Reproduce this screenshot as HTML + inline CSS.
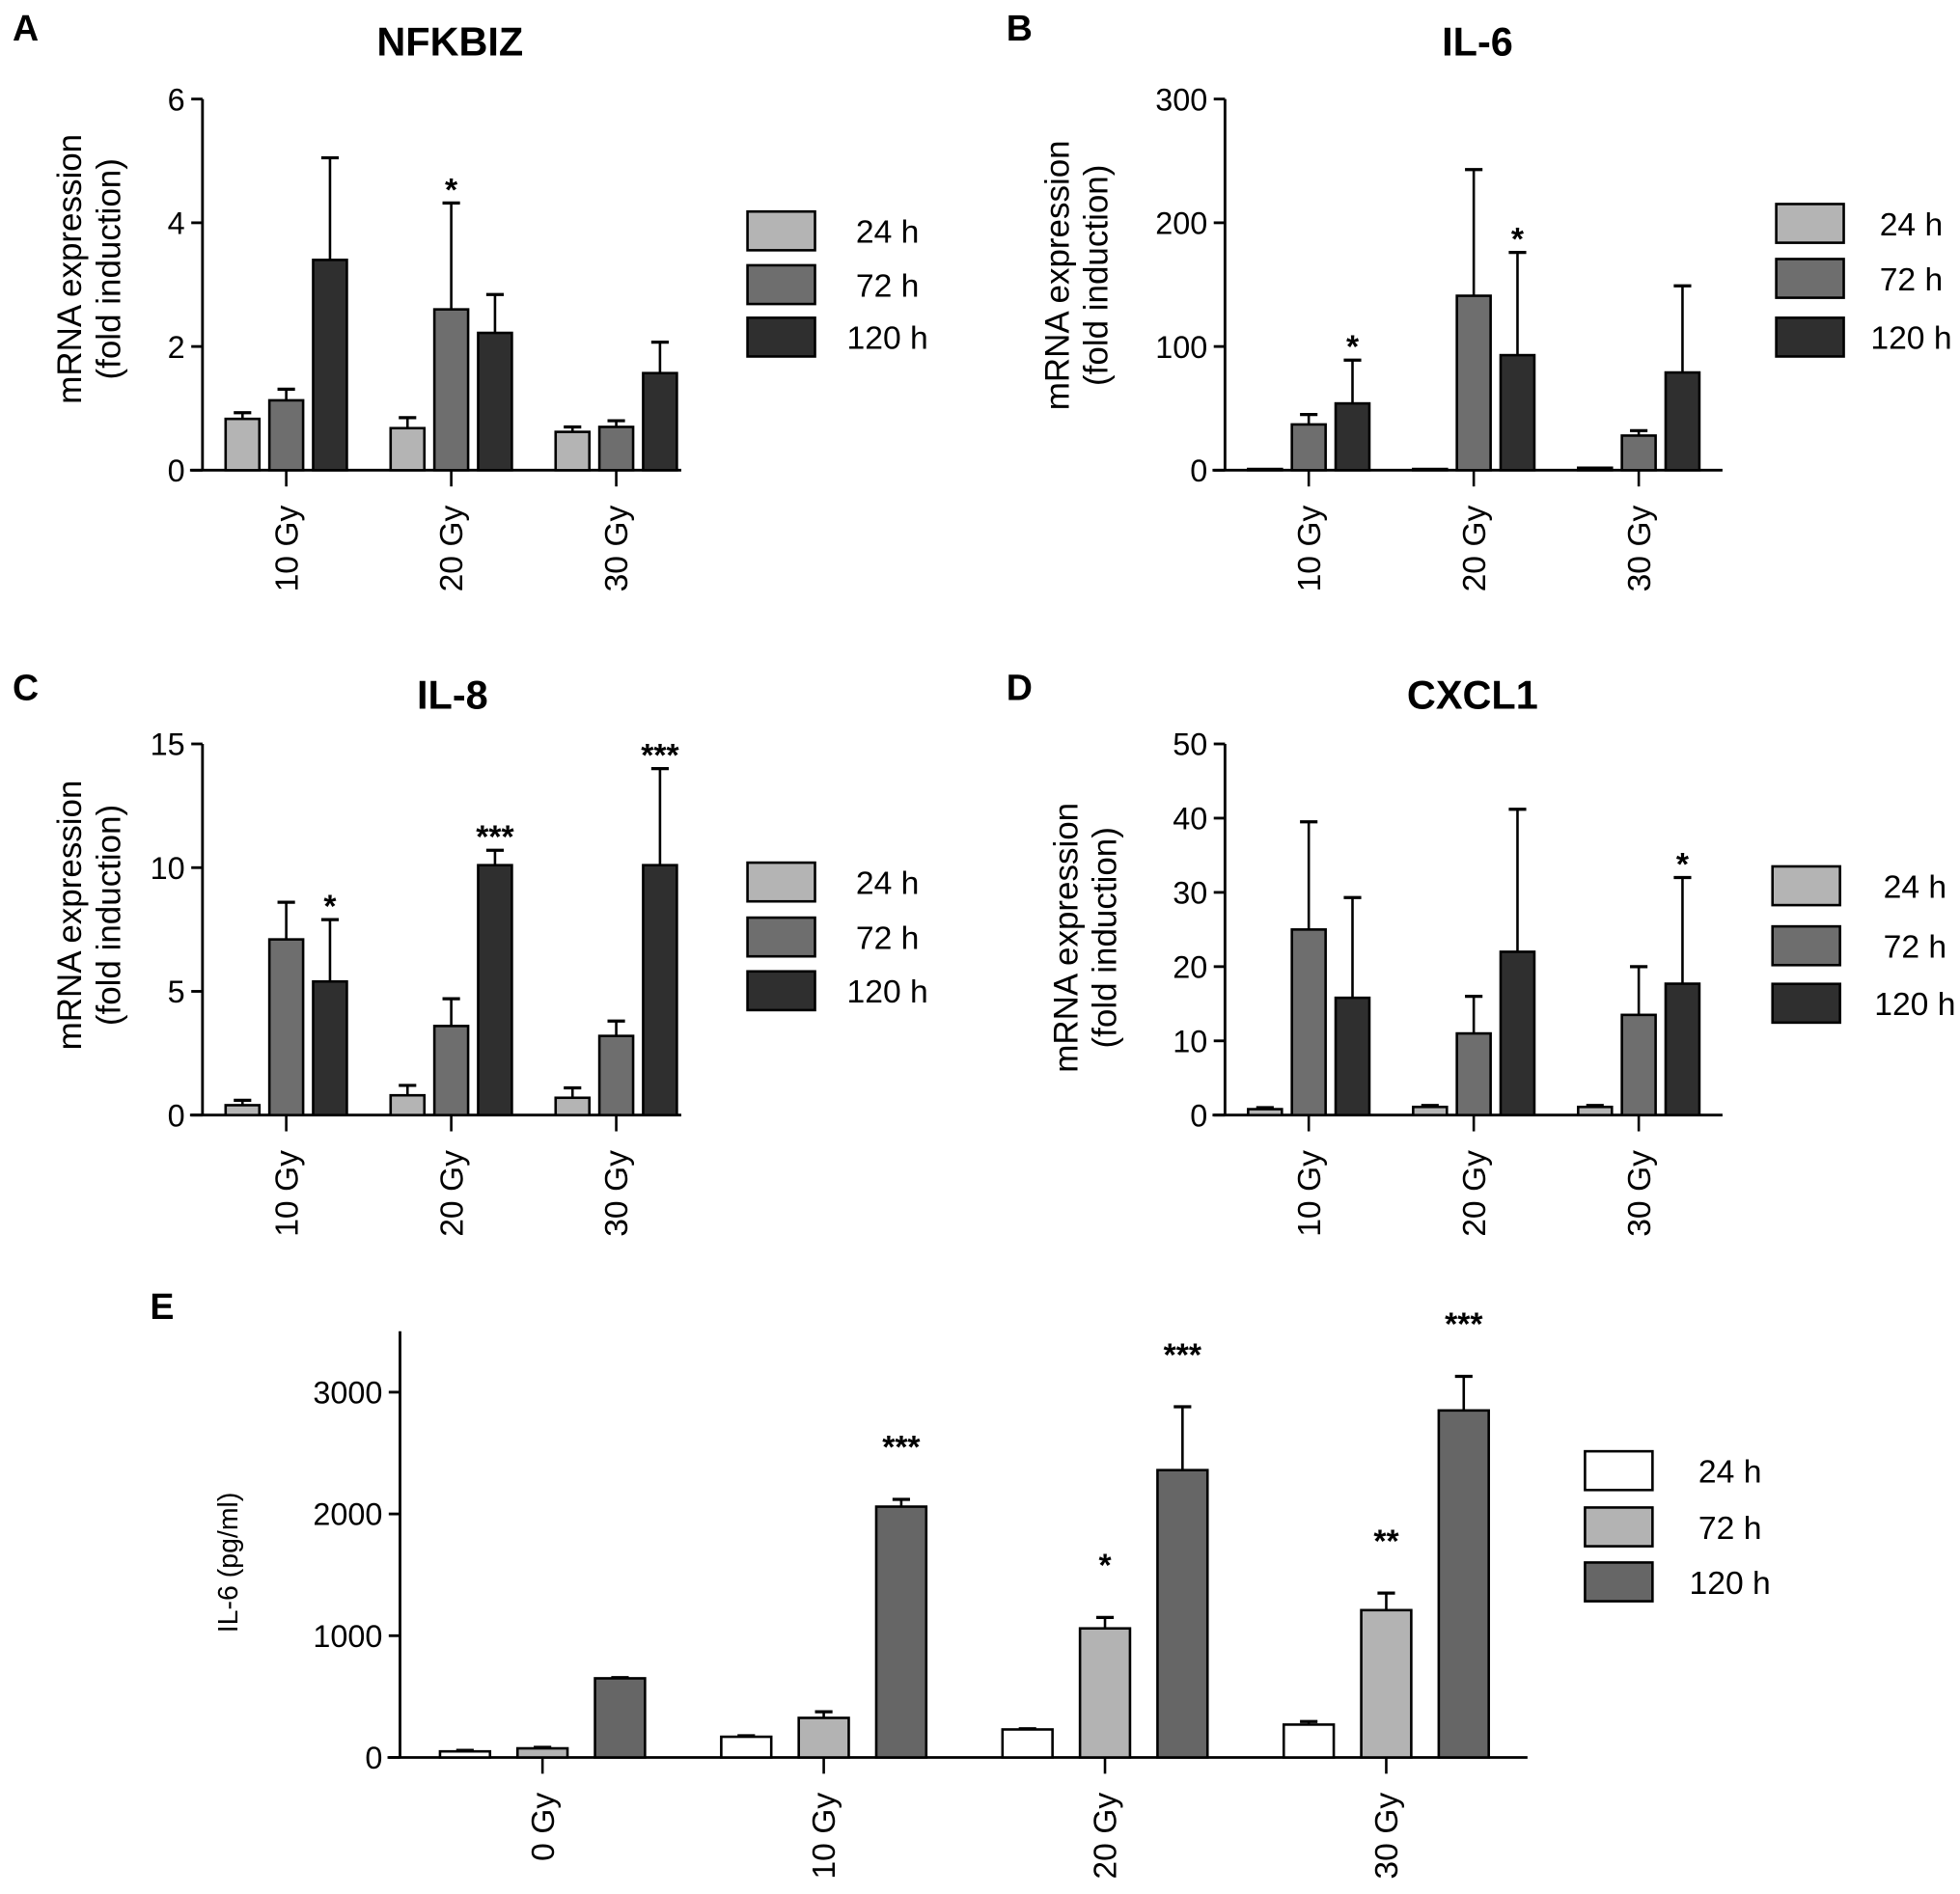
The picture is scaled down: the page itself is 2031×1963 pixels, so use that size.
<!DOCTYPE html>
<html><head><meta charset="utf-8"><style>
html,body{margin:0;padding:0;background:#fff}
svg{display:block;font-family:"Liberation Sans",Arial,sans-serif}
</style></head><body>
<svg id="fig" width="2031" height="1963" viewBox="0 0 1568 1515" xmlns="http://www.w3.org/2000/svg"></svg>
<script>
// Panel A: NFKBIZ
const catsA=["10 Gy","20 Gy","30 Gy"];
const a24=[0.83,0.68,0.62], a24e=[0.1,0.17,0.08];
const a72=[1.13,2.6,0.7], a72e=[0.18,1.72,0.1];
const a120=[3.4,2.22,1.57], a120e=[1.65,0.62,0.5];
const starsA=[["","",""],["","*",""],["","",""]];
const ticksA=[0,2,4,6];
// Panel B: IL-6 mRNA
const b24=[1,1,2], b24e=[0,0,0];
const b72=[37,141,28], b72e=[8,102,4];
const b120=[54,93,79], b120e=[35,83,70];
const starsB=[["","",""],["","",""],["*","*",""]];
const ticksB=[0,100,200,300];
// Panel C: IL-8
const c24=[0.4,0.8,0.7], c24e=[0.2,0.4,0.4];
const c72=[7.1,3.6,3.2], c72e=[1.5,1.1,0.6];
const c120=[5.4,10.1,10.1], c120e=[2.5,0.6,3.9];
const starsC=[["","",""],["","",""],["*","***","***"]];
const ticksC=[0,5,10,15];
// Panel D: CXCL1
const d24=[0.8,1.1,1.1], d24e=[0.2,0.2,0.2];
const d72=[25,11,13.5], d72e=[14.5,5,6.5];
const d120=[15.8,22,17.7], d120e=[13.5,19.2,14.3];
const starsD=[["","",""],["","",""],["","","*"]];
const ticksD=[0,10,20,30,40,50];
// Panel E: IL-6 protein
const catsE=["0 Gy","10 Gy","20 Gy","30 Gy"];
const e24=[50,170,230,270], e24e=[8,8,6,25];
const e72=[75,325,1060,1210], e72e=[8,50,90,140];
const e120=[650,2060,2360,2850], e120e=[6,60,520,280];
const starsE=[["","","",""],["","","*","**"],["","***","***","***"]];
const ticksE=[0,1000,2000,3000];
const seriesNames=["24 h","72 h","120 h"];

const NS="http://www.w3.org/2000/svg";
const svg=document.getElementById('fig');
function mk(tag,attrs,parent,text){const e=document.createElementNS(NS,tag);for(const k in attrs)e.setAttribute(k,attrs[k]);if(text!==undefined)e.textContent=text;(parent||svg).appendChild(e);return e;}

function panel(o){
  const g=mk('g',{});
  
  
  const yS=v=>o.y0-(v/o.ymax)*(o.y0-o.ytop);
  const L=mk('text',{x:o.lx,y:o.ly,'font-size':29,'font-weight':'bold'},g,o.letter);
  
  if(o.title){const t=mk('text',{x:o.tx,y:o.ty,'font-size':32,'font-weight':'bold','text-anchor':'middle'},g,o.title);
  }
  const ya=mk('line',{x1:o.ax,y1:o.ytop,x2:o.ax,y2:o.y0,stroke:'#000','stroke-width':2.2},g);
  
  o.ticks.forEach(v=>{const y=yS(v);
    mk('line',{x1:o.ax-9,y1:y,x2:o.ax,y2:y,stroke:'#000','stroke-width':2.2},g);
    const t=mk('text',{x:o.ax-14,y:y+9,'font-size':o.tfs,'text-anchor':'end'},g,String(v));
    });
  o.ylab.forEach((s,i)=>{const x=o.ylx+i*o.yld;const t=mk('text',{x:x,y:o.yly,'font-size':o.yfs,'text-anchor':'middle',transform:`rotate(-90 ${x} ${o.yly})`},g,s);
    });
  const xa=mk('line',{x1:o.xa0,y1:o.y0,x2:o.xa1,y2:o.y0,stroke:'#000','stroke-width':2.2},g);
  
  o.cats.forEach((c,i)=>{const cx=o.c0+i*o.cstep;
    mk('line',{x1:cx,y1:o.y0,x2:cx,y2:o.y0+13,stroke:'#000','stroke-width':2},g);
    const t=mk('text',{x:cx+9,y:o.y0+28,'font-size':o.cfs,'text-anchor':'end',transform:`rotate(-90 ${cx+9} ${o.y0+28})`},g,c);
    
    o.series.forEach((s,j)=>{
      const bx=cx+(j-1)*o.bstep-o.bw/2, v=s.v[i], top=yS(v), et=yS(v+s.e[i]);
      const r=mk('rect',{x:bx,y:top,width:o.bw,height:o.y0-top,fill:o.cols[j],stroke:'#000','stroke-width':2},g);
      
      
      if(s.e[i]>0){mk('line',{x1:bx+o.bw/2,y1:top,x2:bx+o.bw/2,y2:et,stroke:'#000','stroke-width':2},g);
        mk('line',{x1:bx+o.bw/2-7,y1:et,x2:bx+o.bw/2+7,y2:et,stroke:'#000','stroke-width':2.5},g);}
      const st=o.stars[j][i];
      if(st){const t=mk('text',{x:bx+o.bw/2,y:et-o.sgap,'font-size':26,'font-weight':'bold','text-anchor':'middle'},g,st);
        }
    });
  });
  o.legY.forEach((y,j)=>{
    const r=mk('rect',{x:o.legX,y:y,width:54,height:31,fill:o.cols[j],stroke:'#000','stroke-width':2},g);
    
    const t=mk('text',{x:o.legX+o.legTx,y:y+25,'font-size':26,'text-anchor':'middle'},g,seriesNames[j]);
    
  });
}
const colsM=['#b4b4b4','#6e6e6e','#2f2f2f'];
const base={tfs:25,cfs:26,yfs:27,ylab:["mRNA expression","(fold induction)"],yld:31,bw:27,bstep:35,cstep:132,cols:colsM,sgap:2};
panel(Object.assign({},base,{id:'nfkbiz',letter:'A',lx:10,ly:32,title:'NFKBIZ',tx:360,ty:44,ax:162,ytop:79,y0:376,ymax:6,ticks:ticksA,ylx:65,yly:215,xa0:152,xa1:545,c0:229,cats:catsA,
  series:[{v:a24,e:a24e},{v:a72,e:a72e},{v:a120,e:a120e}],stars:starsA,legX:598,legY:[169,212,254],legTx:112}));
panel(Object.assign({},base,{id:'il6-mrna',letter:'B',lx:805,ly:32,title:'IL-6',tx:1182,ty:44,ax:980,ytop:79,y0:376,ymax:300,ticks:ticksB,ylx:855,yly:220,xa0:970,xa1:1378,c0:1047,cats:catsA,
  series:[{v:b24,e:b24e},{v:b72,e:b72e},{v:b120,e:b120e}],stars:starsB,legX:1421,legY:[163,207,254],legTx:108}));
panel(Object.assign({},base,{id:'il8',letter:'C',lx:10,ly:560,title:'IL-8',tx:362,ty:567,ax:162,ytop:595,y0:892,ymax:15,ticks:ticksC,ylx:65,yly:732,xa0:152,xa1:545,c0:229,cats:catsA,
  series:[{v:c24,e:c24e},{v:c72,e:c72e},{v:c120,e:c120e}],stars:starsC,legX:598,legY:[690,734,777],legTx:112}));
panel(Object.assign({},base,{id:'cxcl1',letter:'D',lx:805,ly:560,title:'CXCL1',tx:1178,ty:567,ax:980,ytop:595,y0:892,ymax:50,ticks:ticksD,ylx:862,yly:750,xa0:970,xa1:1378,c0:1047,cats:catsA,
  series:[{v:d24,e:d24e},{v:d72,e:d72e},{v:d120,e:d120e}],stars:starsD,legX:1418,legY:[693,741,787],legTx:114}));
panel({id:'il6-protein',letter:'E',lx:120,ly:1055,title:'',tfs:25,cfs:26,yfs:22,ylab:["IL-6 (pg/ml)"],yld:0,ylx:190,yly:1250,sgap:33,
  ax:320,ytop:1065,y0:1406,ymax:3500,ticks:ticksE,xa0:310,xa1:1222,c0:434,cstep:225,bw:40,bstep:62,cats:catsE,
  cols:['#ffffff','#b3b3b3','#666666'],series:[{v:e24,e:e24e},{v:e72,e:e72e},{v:e120,e:e120e}],stars:starsE,legX:1268,legY:[1161,1206,1250],legTx:116});
</script>
</body></html>
